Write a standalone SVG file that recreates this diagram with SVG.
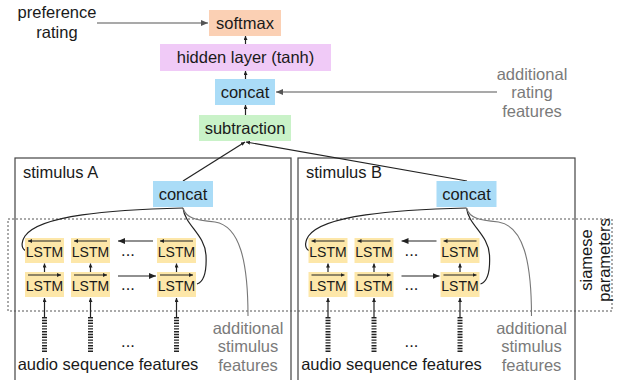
<svg xmlns="http://www.w3.org/2000/svg" width="617" height="380" viewBox="0 0 617 380">
<defs>
<style>
text{font-family:"Liberation Sans",Arial,sans-serif;font-size:16.5px;fill:#1a1a1a;text-anchor:middle}
.g{fill:#7a7a7a}
.lstm text{font-size:14px}
.ln{fill:none;stroke:#222;stroke-width:1.2}
.gl{fill:none;stroke:#555;stroke-width:1.2}
.gc{fill:none;stroke:#777;stroke-width:1.1}
.bc{fill:none;stroke:#222;stroke-width:5;stroke-dasharray:1.4 1.4}
.frame{fill:none;stroke:#444;stroke-width:1.2}
.dot{fill:none;stroke:#555;stroke-width:1;stroke-dasharray:2 2}
.soft{fill:#fbd0b4}.hid{fill:#f0caf7}.cat{fill:#aadcf7}.sub{fill:#c9f2c8}.ls{fill:#fde7a9}
</style>
<marker id="ah" markerUnits="userSpaceOnUse" markerWidth="7" markerHeight="6" refX="7" refY="3" orient="auto"><path d="M0,0 L7,3 L0,6 z" fill="#222"/></marker>
<marker id="as" markerUnits="userSpaceOnUse" markerWidth="4" markerHeight="4" refX="4" refY="2" orient="auto"><path d="M0,0 L4,2 L0,4 z" fill="#222"/></marker>
<marker id="ag" markerUnits="userSpaceOnUse" markerWidth="7" markerHeight="6" refX="7" refY="3" orient="auto"><path d="M0,0 L7,3 L0,6 z" fill="#555"/></marker>
</defs>
<rect width="617" height="380" fill="#fff"/>

<g id="frames">
<rect id="stimA" class="frame" x="15" y="158" width="276" height="240"/>
<rect id="stimB" class="frame" x="298" y="158" width="277" height="240"/>
<rect id="siamese" class="dot" x="8" y="219" width="604" height="92"/>
<text x="23" y="178" style="text-anchor:start">stimulus A</text>
<text x="306" y="178" style="text-anchor:start">stimulus B</text>
<text transform="translate(592,260) rotate(-90)">siamese</text>
<text transform="translate(610,260) rotate(-90)">parameters</text>
</g>

<g id="connectors">
<line class="gl" x1="97" y1="23" x2="208" y2="23" marker-end="url(#ag)"/>
<line class="gl" x1="497" y1="92" x2="276" y2="92" marker-end="url(#ag)"/>
<line class="ln" x1="245.5" y1="44" x2="245.5" y2="36" marker-end="url(#as)"/>
<line class="ln" x1="245.5" y1="79" x2="245.5" y2="71" marker-end="url(#as)"/>
<line class="ln" x1="245.5" y1="115" x2="245.5" y2="105" marker-end="url(#as)"/>
<line class="ln" x1="183" y1="181" x2="245" y2="142" marker-end="url(#as)"/>
<line class="ln" x1="467" y1="181" x2="246" y2="142" marker-end="url(#as)"/>
<g id="connA">
<path class="ln" d="M183,208 C110,210 40,215 25,236 C20,244 22,250 27,251"/>
<path class="ln" d="M183,208 C185,225 205,235 206,255 C207,275 203,282 197,284"/>
<path class="gc" d="M183,208 C186,218 195,220 215,222 C240,226 248,262 248,316"/>
<line class="ln" x1="153" y1="241" x2="118" y2="241" marker-end="url(#ah)"/>
<line class="ln" x1="118" y1="276" x2="156" y2="276" marker-end="url(#ah)"/>
<line class="ln" x1="44.5" y1="272" x2="44.5" y2="263.5" marker-end="url(#as)"/>
<line class="ln" x1="90.5" y1="272" x2="90.5" y2="263.5" marker-end="url(#as)"/>
<line class="ln" x1="176.5" y1="272" x2="176.5" y2="263.5" marker-end="url(#as)"/>
<line class="ln" x1="44.5" y1="317" x2="44.5" y2="298" marker-end="url(#as)" stroke-width="1.5"/>
<line class="ln" x1="90.5" y1="317" x2="90.5" y2="298" marker-end="url(#as)" stroke-width="1.5"/>
<line class="ln" x1="176.5" y1="317" x2="176.5" y2="298" marker-end="url(#as)" stroke-width="1.5"/>
</g>
<g id="connB" transform="translate(283.5,0)">
<path class="ln" d="M183,208 C110,210 40,215 25,236 C20,244 22,250 27,251"/>
<path class="ln" d="M183,208 C185,225 205,235 206,255 C207,275 203,282 197,284"/>
<path class="gc" d="M183,208 C186,218 195,220 215,222 C240,226 248,262 248,316"/>
<line class="ln" x1="153" y1="241" x2="118" y2="241" marker-end="url(#ah)"/>
<line class="ln" x1="118" y1="276" x2="156" y2="276" marker-end="url(#ah)"/>
<line class="ln" x1="44.5" y1="272" x2="44.5" y2="263.5" marker-end="url(#as)"/>
<line class="ln" x1="90.5" y1="272" x2="90.5" y2="263.5" marker-end="url(#as)"/>
<line class="ln" x1="176.5" y1="272" x2="176.5" y2="263.5" marker-end="url(#as)"/>
<line class="ln" x1="44.5" y1="317" x2="44.5" y2="298" marker-end="url(#as)" stroke-width="1.5"/>
<line class="ln" x1="90.5" y1="317" x2="90.5" y2="298" marker-end="url(#as)" stroke-width="1.5"/>
<line class="ln" x1="176.5" y1="317" x2="176.5" y2="298" marker-end="url(#as)" stroke-width="1.5"/>
</g>
</g>

<g id="softmax"><rect class="soft" x="209" y="10" width="72" height="26"/><text x="245" y="29">softmax</text></g>
<g id="hidden"><rect class="hid" x="160" y="44" width="171" height="27"/><text x="245.5" y="63">hidden layer (tanh)</text></g>
<g id="concat"><rect class="cat" x="215" y="79" width="60" height="26"/><text x="245" y="98">concat</text></g>
<g id="subtraction"><rect class="sub" x="199" y="115" width="92" height="26"/><text x="245" y="134">subtraction</text></g>
<g id="prefRating"><text x="57" y="18">preference</text><text x="57" y="38">rating</text></g>
<g id="ratingFeatures"><text class="g" x="532" y="79.5">additional</text><text class="g" x="532" y="98">rating</text><text class="g" x="532" y="116.5">features</text></g>

<g id="stimulusA">
<g id="concatA"><rect class="cat" x="153" y="181" width="60" height="26"/><text x="183" y="200">concat</text></g>
<g class="lstm" id="lstmA">
<rect class="ls" x="25" y="238" width="39" height="25"/><rect class="ls" x="71" y="238" width="39" height="25"/><rect class="ls" x="157" y="238" width="39" height="25"/>
<rect class="ls" x="25" y="272" width="39" height="25"/><rect class="ls" x="71" y="272" width="39" height="25"/><rect class="ls" x="157" y="272" width="39" height="25"/>
<text x="44.5" y="257">LSTM</text><text x="90.5" y="257">LSTM</text><text x="176.5" y="257">LSTM</text>
<text x="44.5" y="291">LSTM</text><text x="90.5" y="291">LSTM</text><text x="176.5" y="291">LSTM</text>
<line class="ln" x1="61" y1="241" x2="28" y2="241" marker-end="url(#as)"/><line class="ln" x1="107" y1="241" x2="74" y2="241" marker-end="url(#as)"/><line class="ln" x1="193" y1="241" x2="160" y2="241" marker-end="url(#as)"/>
<line class="ln" x1="28" y1="275" x2="61" y2="275" marker-end="url(#as)"/><line class="ln" x1="74" y1="275" x2="107" y2="275" marker-end="url(#as)"/><line class="ln" x1="160" y1="275" x2="193" y2="275" marker-end="url(#as)"/>
</g>
<text x="128" y="256">...</text><text x="128" y="290">...</text><text x="128" y="347">...</text>
<line class="bc" x1="44.5" y1="317" x2="44.5" y2="352"/><line class="bc" x1="90.5" y1="317" x2="90.5" y2="352"/><line class="bc" x1="176.5" y1="317" x2="176.5" y2="352"/>
<text x="108" y="370">audio sequence features</text>
<text class="g" x="248" y="334">additional</text><text class="g" x="248" y="352">stimulus</text><text class="g" x="248" y="371">features</text>
</g>

<g id="stimulusB" transform="translate(283.5,0)">
<g id="concatB"><rect class="cat" x="153" y="181" width="60" height="26"/><text x="183" y="200">concat</text></g>
<g class="lstm" id="lstmB">
<rect class="ls" x="25" y="238" width="39" height="25"/><rect class="ls" x="71" y="238" width="39" height="25"/><rect class="ls" x="157" y="238" width="39" height="25"/>
<rect class="ls" x="25" y="272" width="39" height="25"/><rect class="ls" x="71" y="272" width="39" height="25"/><rect class="ls" x="157" y="272" width="39" height="25"/>
<text x="44.5" y="257">LSTM</text><text x="90.5" y="257">LSTM</text><text x="176.5" y="257">LSTM</text>
<text x="44.5" y="291">LSTM</text><text x="90.5" y="291">LSTM</text><text x="176.5" y="291">LSTM</text>
<line class="ln" x1="61" y1="241" x2="28" y2="241" marker-end="url(#as)"/><line class="ln" x1="107" y1="241" x2="74" y2="241" marker-end="url(#as)"/><line class="ln" x1="193" y1="241" x2="160" y2="241" marker-end="url(#as)"/>
<line class="ln" x1="28" y1="275" x2="61" y2="275" marker-end="url(#as)"/><line class="ln" x1="74" y1="275" x2="107" y2="275" marker-end="url(#as)"/><line class="ln" x1="160" y1="275" x2="193" y2="275" marker-end="url(#as)"/>
</g>
<text x="128" y="256">...</text><text x="128" y="290">...</text><text x="128" y="347">...</text>
<line class="bc" x1="44.5" y1="317" x2="44.5" y2="352"/><line class="bc" x1="90.5" y1="317" x2="90.5" y2="352"/><line class="bc" x1="176.5" y1="317" x2="176.5" y2="352"/>
<text x="108" y="370">audio sequence features</text>
<text class="g" x="248" y="334">additional</text><text class="g" x="248" y="352">stimulus</text><text class="g" x="248" y="371">features</text>
</g>
</svg>
